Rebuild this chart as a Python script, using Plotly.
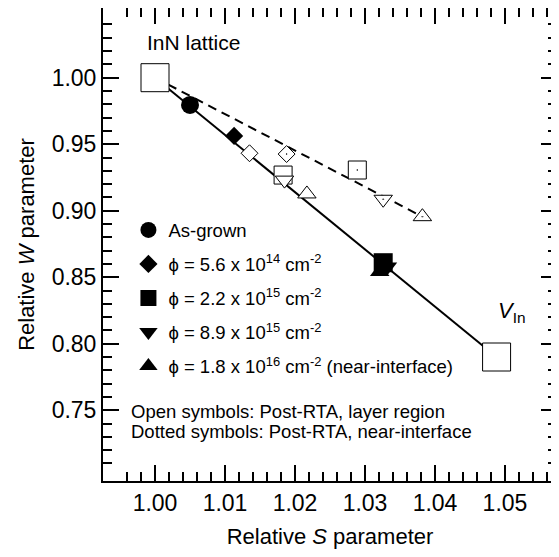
import plotly.graph_objects as go

# ---------------- data ----------------
ref_S = [1.000, 1.0488]          # InN lattice, V_In
ref_W = [1.000, 0.790]

asgrown_S = [1.0050]
asgrown_W = [0.9795]

fluence_labels = [
    "ϕ = 5.6 x 10<sup>14</sup> cm<sup>-2</sup>",
    "ϕ = 2.2 x 10<sup>15</sup> cm<sup>-2</sup>",
    "ϕ = 8.9 x 10<sup>15</sup> cm<sup>-2</sup>",
    "ϕ = 1.8 x 10<sup>16</sup> cm<sup>-2</sup> (near-interface)",
]
filled_S = [1.0113, 1.0326, 1.0332, 1.0321]
filled_W = [0.9562, 0.8609, 0.8579, 0.8541]

open_S = [1.0135, 1.0183, 1.0185, 1.0217]
open_W = [0.9432, 0.9268, 0.9230, 0.9126]

dotted_S = [1.0188, 1.0289, 1.0326, 1.0382]
dotted_W = [0.9426, 0.9306, 0.9086, 0.8955]

x_ticks = [1.00, 1.01, 1.02, 1.03, 1.04, 1.05]
y_ticks = [0.75, 0.80, 0.85, 0.90, 0.95, 1.00]
x_minor = [round(0.996 + 0.002 * k, 3) for k in range(31)]
y_minor = [round(0.71 + 0.01 * k, 2) for k in range(34)]

symbols = ["diamond", "square", "triangle-down", "triangle-up"]
sizes = [13, 18, 16, 16]

FONT = "Liberation Sans, Arial, Helvetica, sans-serif"

fig = go.Figure()

# solid line: lattice -> V_In
fig.add_trace(go.Scatter(x=ref_S, y=ref_W, mode="lines",
                         line=dict(color="black", width=2), showlegend=False, hoverinfo="skip"))
# dashed line: lattice -> last near-interface point
fig.add_trace(go.Scatter(x=[ref_S[0], dotted_S[-1]], y=[ref_W[0], dotted_W[-1]], mode="lines",
                         line=dict(color="black", width=2, dash="9px,6px"),
                         showlegend=False, hoverinfo="skip"))

# open symbols (post-RTA layer region)
for i in range(4):
    fig.add_trace(go.Scatter(x=[open_S[i]], y=[open_W[i]], mode="markers",
                             marker=dict(symbol=symbols[i], size=sizes[i], color="white",
                                         line=dict(color="black", width=1)),
                             showlegend=False))
# dotted symbols (post-RTA near-interface)
for i in range(4):
    fig.add_trace(go.Scatter(x=[dotted_S[i]], y=[dotted_W[i]], mode="markers",
                             marker=dict(symbol=symbols[i] + "-dot", size=sizes[i], color="white",
                                         line=dict(color="black", width=1)),
                             showlegend=False))

# as-grown
fig.add_trace(go.Scatter(x=asgrown_S, y=asgrown_W, mode="markers", name="As-grown",
                         legendgroup="g0",
                         marker=dict(symbol="circle", size=18, color="black")))
# filled (as-irradiated)
for i in range(4):
    fig.add_trace(go.Scatter(x=[filled_S[i]], y=[filled_W[i]], mode="markers",
                             name=fluence_labels[i], legendgroup="g%d" % (i + 1),
                             marker=dict(symbol=symbols[i], size=sizes[i] + 1, color="black")))

# reference squares
fig.add_trace(go.Scatter(x=ref_S, y=ref_W, mode="markers",
                         marker=dict(symbol="square", size=28, color="white",
                                     line=dict(color="black", width=1)),
                         showlegend=False))

fig.add_annotation(x=0.9986, y=1.0266, xref="x", yref="y", text="InN lattice",
                   showarrow=False, xanchor="left", yanchor="middle",
                   font=dict(size=21, color="black", family=FONT))
fig.add_annotation(x=1.0487, y=0.8238, xref="x", yref="y", text="<i>V</i><sub>In</sub>",
                   showarrow=False, xanchor="left", yanchor="middle",
                   font=dict(size=22, color="black", family=FONT))
fig.add_annotation(x=0.9963, y=0.7489, xref="x", yref="y",
                   text="Open symbols: Post-RTA, layer region",
                   showarrow=False, xanchor="left", yanchor="middle",
                   font=dict(size=18.5, color="black", family=FONT))
fig.add_annotation(x=0.9963, y=0.7338, xref="x", yref="y",
                   text="Dotted symbols: Post-RTA, near-interface",
                   showarrow=False, xanchor="left", yanchor="middle",
                   font=dict(size=18.5, color="black", family=FONT))

axis_common = dict(
    showline=True, linecolor="black", linewidth=2, mirror="allticks",
    ticks="inside", ticklen=16, tickwidth=2, tickcolor="black",
    showgrid=False, zeroline=False, automargin=False,
    tickfont=dict(size=23, color="black", family=FONT),
)

fig.update_xaxes(range=[0.99257, 1.05743], tickmode="array", tickvals=x_ticks,
                 ticktext=["%.2f" % v for v in x_ticks],
                 minor=dict(tickmode="array", tickvals=x_minor, ticks="inside", ticklen=9,
                            tickwidth=2, tickcolor="black", showgrid=False),
                 title=dict(text="Relative <i>S</i> parameter", standoff=14,
                            font=dict(size=22, color="black", family=FONT)),
                 **axis_common)
fig.update_yaxes(range=[0.69677, 1.0524], tickmode="array", tickvals=y_ticks,
                 ticktext=["%.2f" % v for v in y_ticks],
                 minor=dict(tickmode="array", tickvals=y_minor, ticks="inside", ticklen=9,
                            tickwidth=2, tickcolor="black", showgrid=False),
                 title=dict(text="Relative <i>W</i> parameter", standoff=11,
                            font=dict(size=22, color="black", family=FONT)),
                 **axis_common)

# the page adds an 8px body margin, so the figure is sized to fit the 559x557 window
fig.update_layout(
    width=551, height=549,
    margin=dict(l=95, r=2, t=0, b=76),
    paper_bgcolor="white", plot_bgcolor="white",
    font=dict(family=FONT, color="black"),
    legend=dict(x=0.056, y=0.57, xanchor="left", yanchor="top",
                bgcolor="rgba(0,0,0,0)", borderwidth=0,
                traceorder="grouped", tracegroupgap=7,
                font=dict(size=18.5, color="black", family=FONT)),
)

fig.write_html("out.html")
